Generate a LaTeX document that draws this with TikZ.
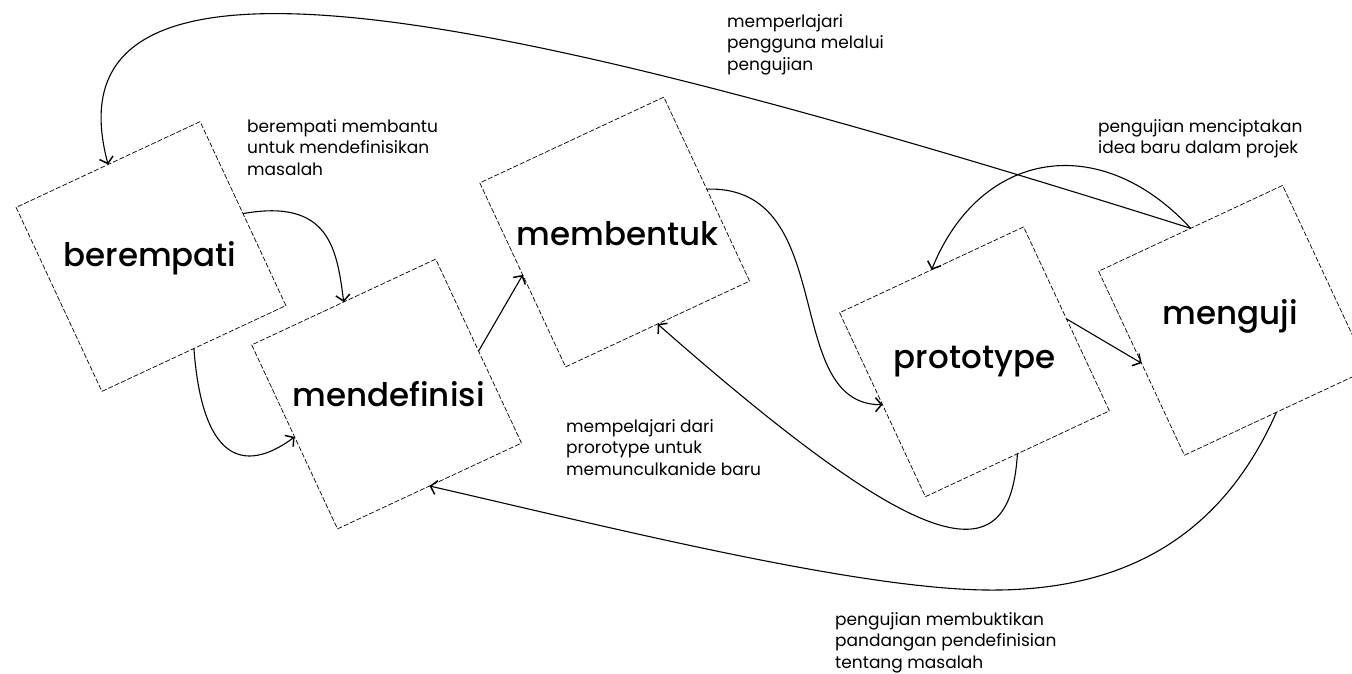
\documentclass[tikz,border=0pt]{standalone}
\usepackage{fontspec}
\setmainfont{Poppins}
\newfontfamily\medfont{Poppins Medium}
\usetikzlibrary{arrows.meta,calc}
\begin{document}
\begin{tikzpicture}[x=1pt,y=-1pt,
  sq/.style={draw, rectangle, rotate=25, minimum size=203pt, inner sep=0pt, outer sep=0pt,
             dash pattern=on 5pt off 2pt, line width=0.7pt},
  big/.style={font=\medfont\fontsize{32.5}{38}\selectfont, inner sep=0pt},
  lbl/.style={font=\fontsize{17}{21.5}\selectfont, align=left, anchor=north west, inner sep=0pt},
  con/.style={line width=1.1pt, -{Straight Barb[length=6pt,width=14pt,line width=1.5pt]}}]
\useasboundingbox (0,0) rectangle (1352,674);

% boxes
\node[sq] (be) at (151,256.5) {};
\node[sq] (md) at (386.6,394) {};
\node[sq] (mb) at (614.7,232) {};
\node[sq] (pt) at (974.5,361.8) {};
\node[sq] (mg) at (1233.5,320.3) {};

\node[big] (be-t) at ($(be.center)+(-1,2)$) {berempati};
\node[big] (md-t) at ($(md.center)+(2,0)$) {mendefinisi};
\node[big] (mb-t) at ($(mb.center)+(3,2)$) {membentuk};
\node[big] (pt-t) at (pt.center) {prototype};
\node[big] (mg-t) at ($(mg.center)+(-3,-4)$) {menguji};

% labels
\node[lbl] (l1) at (247,119) {berempati membantu\\untuk mendefinisikan\\masalah};
\node[lbl] (l2) at (727,14) {memperlajari\\pengguna melalui\\pengujian};
\node[lbl] (l3) at (1098,119) {pengujian menciptakan\\idea baru dalam projek};
\node[lbl] (l4) at (566,419) {mempelajari dari\\prorotype untuk\\memunculkanide baru};
\node[lbl] (l5) at (835,612) {pengujian membuktikan\\pandangan pendefinisian\\tentang masalah};

% connectors
\coordinate (low) at (985,590);
\draw[con] (be.east) .. controls (330,198) and (337,250) .. (md.north);
\draw[con] (be.south) .. controls (203,470) and (250,470) .. (md.west);
\draw[con] (md.east) -- (mb.west);
\draw[con] (mb.east) .. controls (840,185) and (780,405) .. (pt.west);
\draw[con] (pt.south) .. controls (1010,580) and (920,555) .. (mb.south);
\draw[con] (pt.east) -- (mg.west);
\draw[con] (mg.north) .. controls (1100,130) and (980,150) .. (pt.north);
\draw[con] (mg.north) .. controls (500,10) and (40,-90) .. (be.north);
\draw[con] (mg.south) .. controls (1220,540) and (1120,592) .. (low)
           .. controls (850,588) and (600,525) .. (md.south);
\end{tikzpicture}
\end{document}
